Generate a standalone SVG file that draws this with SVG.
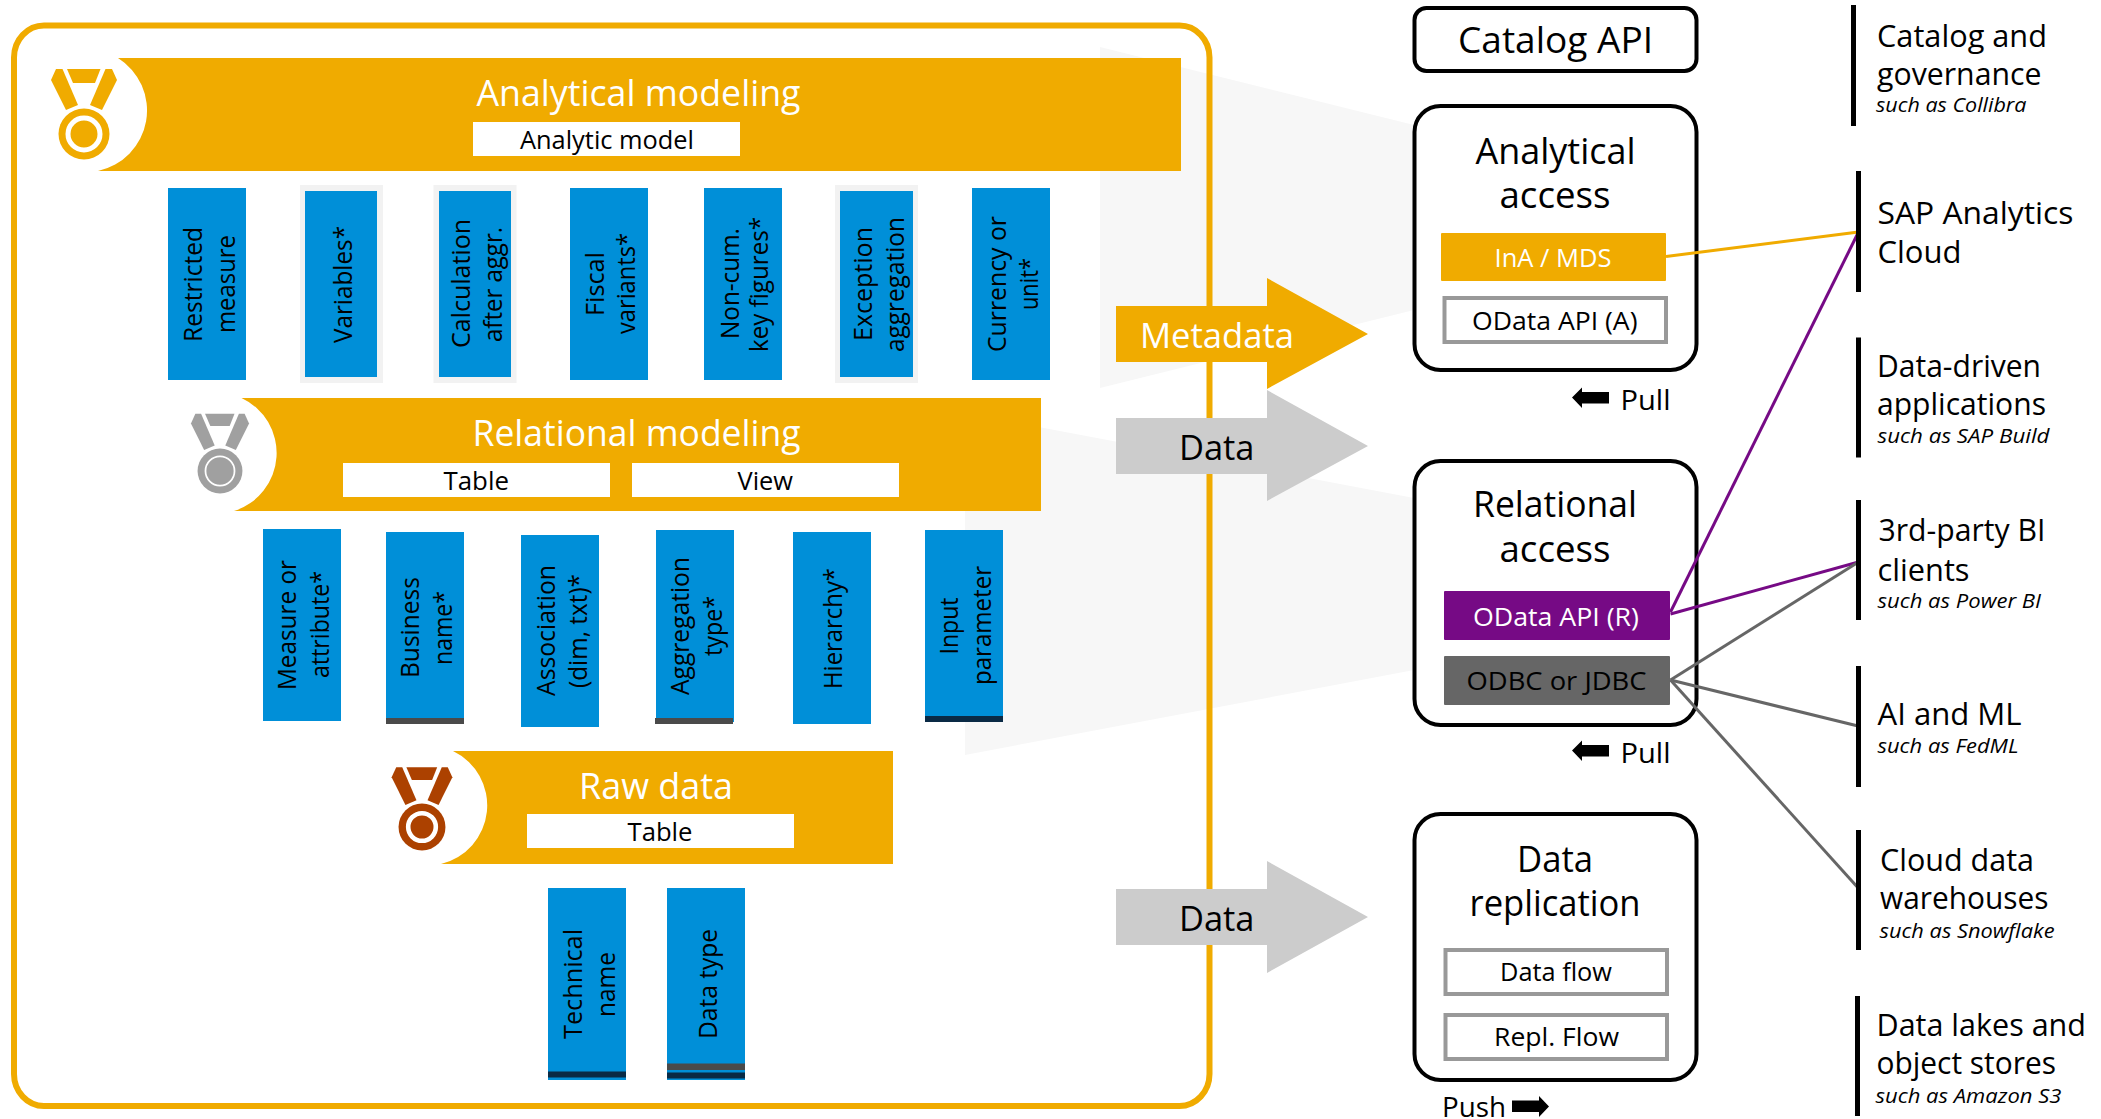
<svg xmlns="http://www.w3.org/2000/svg" width="2101" height="1119" viewBox="0 0 2101 1119">
<style>
text{font-family:"Open Sans","Noto Sans","Liberation Sans",sans-serif;fill:#000}
.v{font-size:25px}
.t{font-size:36px}
.tw{font-size:36px;fill:#fff}
.s{font-size:25px}
.b{font-size:26px}
.bw{font-size:26px;fill:#fff}
.r{font-size:31px}
.i{font-size:20px;font-style:italic}
.p{font-size:28px}
.blue{fill:#008fd8}
.halo{fill:#f2f2f2}
.gold{fill:#f0ab00}
.card{fill:#fff;stroke:#000;stroke-width:4}
.sub{fill:#fff;stroke:#999;stroke-width:4}
.bar{fill:#000}
.dk{fill:#4a4a4a}
.nv{fill:#0a2a45}
.wh{fill:#fff}
.c{fill:none;stroke-width:3}
</style>
<defs>
<g id="ribbon">
<path d="M-28-65-33-54-18-24-6-29-21.500-65Z"/>
<path d="M28-65 33-54 18-24 6-29 21.500-65Z"/>
<path d="M-17-65H16.500L11-51H-11Z"/>
</g>
</defs>
<g id="background">
<polygon points="1100,47 1414,125 1414,310 1100,388" fill="#f7f7f7"/>
<polygon points="965,413 1414,498 1414,670 965,755" fill="#f7f7f7"/>
</g>
<g id="frame"><rect x="14" y="25.500" width="1195.500" height="1080.500" rx="30" ry="32" fill="none" stroke="#f0ab00" stroke-width="6"/></g>

<g id="analytical-modeling">
<path class="gold" d="M118 58H1181V171H98A61.900 61.900 0 0 0 118 58Z"/>
<g transform="translate(84,134)" fill="#f0ab00"><use href="#ribbon"/><circle r="25.500"/><circle r="16" fill="none" stroke="#fff" stroke-width="5"/></g>
<text class="tw" x="476.500" y="106" textLength="324" lengthAdjust="spacingAndGlyphs">Analytical modeling</text>
<rect class="wh" x="473" y="122" width="267" height="34"/>
<text class="s" x="520" y="149" textLength="174" lengthAdjust="spacingAndGlyphs">Analytic model</text>
</g>
<g id="restricted-measure"><rect class="blue" x="168" y="188" width="78" height="192"/>
<text class="v" transform="translate(202,342) rotate(-90)" textLength="115" lengthAdjust="spacingAndGlyphs">Restricted</text>
<text class="v" transform="translate(234.500,333) rotate(-90)" textLength="98" lengthAdjust="spacingAndGlyphs">measure</text></g>
<g id="variables"><rect class="halo" x="300" y="185" width="83" height="198"/><rect class="blue" x="305" y="191" width="72" height="186"/>
<text class="v" transform="translate(352,343) rotate(-90)" textLength="117" lengthAdjust="spacingAndGlyphs">Variables*</text></g>
<g id="calculation"><rect class="halo" x="433.500" y="185" width="83" height="198"/><rect class="blue" x="439" y="191" width="72" height="186"/>
<text class="v" transform="translate(470,348) rotate(-90)" textLength="129" lengthAdjust="spacingAndGlyphs">Calculation</text>
<text class="v" transform="translate(502,342) rotate(-90)" textLength="115" lengthAdjust="spacingAndGlyphs">after aggr.</text></g>
<g id="fiscal-variants"><rect class="blue" x="570" y="188" width="78" height="192"/>
<text class="v" transform="translate(603.500,316) rotate(-90)" textLength="64" lengthAdjust="spacingAndGlyphs">Fiscal</text>
<text class="v" transform="translate(635,334) rotate(-90)" textLength="101" lengthAdjust="spacingAndGlyphs">variants*</text></g>
<g id="non-cum"><rect class="blue" x="704" y="188" width="78" height="192"/>
<text class="v" transform="translate(739,339) rotate(-90)" textLength="111" lengthAdjust="spacingAndGlyphs">Non-cum.</text>
<text class="v" transform="translate(768,352) rotate(-90)" textLength="135" lengthAdjust="spacingAndGlyphs">key figures*</text></g>
<g id="exception-aggregation"><rect class="halo" x="835" y="185" width="83" height="198"/><rect class="blue" x="840" y="191" width="73" height="186"/>
<text class="v" transform="translate(872,341) rotate(-90)" textLength="114" lengthAdjust="spacingAndGlyphs">Exception</text>
<text class="v" transform="translate(903.500,352) rotate(-90)" textLength="135" lengthAdjust="spacingAndGlyphs">aggregation</text></g>
<g id="currency-unit"><rect class="blue" x="972" y="188" width="78" height="192"/>
<text class="v" transform="translate(1005.500,352) rotate(-90)" textLength="136" lengthAdjust="spacingAndGlyphs">Currency or</text>
<text class="v" transform="translate(1038,310) rotate(-90)" textLength="52" lengthAdjust="spacingAndGlyphs">unit*</text></g>

<g id="relational-modeling">
<path class="gold" d="M241.500 398H1041V511H234A60.700 60.700 0 0 0 241.500 398Z"/>
<g transform="translate(220,471) scale(.88)" fill="#a0a0a0"><use href="#ribbon"/><circle r="25.500"/><circle r="16.500" fill="none" stroke="#fff" stroke-width="2"/></g>
<text class="tw" x="472.500" y="446" textLength="328" lengthAdjust="spacingAndGlyphs">Relational modeling</text>
<rect class="wh" x="343" y="463" width="267" height="34"/>
<text class="s" x="443.500" y="490" textLength="65.500" lengthAdjust="spacingAndGlyphs">Table</text>
<rect class="wh" x="632" y="463" width="267" height="34"/>
<text class="s" x="737.500" y="490" textLength="55.500" lengthAdjust="spacingAndGlyphs">View</text>
</g>
<g id="measure-attribute"><rect class="blue" x="263" y="529" width="78" height="192"/>
<text class="v" transform="translate(296,690) rotate(-90)" textLength="130" lengthAdjust="spacingAndGlyphs">Measure or</text>
<text class="v" transform="translate(329,678) rotate(-90)" textLength="107" lengthAdjust="spacingAndGlyphs">attribute*</text></g>
<g id="business-name"><rect class="blue" x="386" y="532" width="78" height="192"/><rect class="dk" x="386" y="718" width="78" height="6"/>
<text class="v" transform="translate(419,678) rotate(-90)" textLength="101" lengthAdjust="spacingAndGlyphs">Business</text>
<text class="v" transform="translate(452,665) rotate(-90)" textLength="74" lengthAdjust="spacingAndGlyphs">name*</text></g>
<g id="association"><rect class="blue" x="521" y="535" width="78" height="192"/>
<text class="v" transform="translate(555,696) rotate(-90)" textLength="131" lengthAdjust="spacingAndGlyphs">Association</text>
<text class="v" transform="translate(587,688) rotate(-90)" textLength="114" lengthAdjust="spacingAndGlyphs">(dim, txt)*</text></g>
<g id="aggregation-type"><rect class="blue" x="656" y="530" width="78" height="192"/><rect class="dk" x="655" y="718" width="78" height="6"/>
<text class="v" transform="translate(689,695) rotate(-90)" textLength="138" lengthAdjust="spacingAndGlyphs">Aggregation</text>
<text class="v" transform="translate(722,656) rotate(-90)" textLength="60" lengthAdjust="spacingAndGlyphs">type*</text></g>
<g id="hierarchy"><rect class="blue" x="793" y="532" width="78" height="192"/>
<text class="v" transform="translate(842,689) rotate(-90)" textLength="121" lengthAdjust="spacingAndGlyphs">Hierarchy*</text></g>
<g id="input-parameter"><rect class="blue" x="925" y="530" width="78" height="192"/><rect class="nv" x="925" y="716" width="78" height="6"/>
<text class="v" transform="translate(957.500,654.500) rotate(-90)" textLength="57" lengthAdjust="spacingAndGlyphs">Input</text>
<text class="v" transform="translate(991,685) rotate(-90)" textLength="119" lengthAdjust="spacingAndGlyphs">parameter</text></g>

<g id="raw-data">
<path class="gold" d="M453 751H893V864H441A60.300 60.300 0 0 0 453 751Z"/>
<g transform="translate(422,827) scale(.92)" fill="#ac4100"><use href="#ribbon"/><circle r="25.500"/><circle r="15" fill="none" stroke="#fff" stroke-width="5"/></g>
<text class="tw" x="579" y="799" textLength="154" lengthAdjust="spacingAndGlyphs">Raw data</text>
<rect class="wh" x="527" y="814" width="267" height="34"/>
<text class="s" x="627.500" y="841" textLength="65" lengthAdjust="spacingAndGlyphs">Table</text>
</g>
<g id="technical-name"><rect class="blue" x="548" y="888" width="78" height="192"/><rect class="nv" x="548" y="1071.500" width="78" height="6"/>
<text class="v" transform="translate(582,1039) rotate(-90)" textLength="110" lengthAdjust="spacingAndGlyphs">Technical</text>
<text class="v" transform="translate(614.500,1017) rotate(-90)" textLength="65" lengthAdjust="spacingAndGlyphs">name</text></g>
<g id="data-type"><rect class="blue" x="667" y="888" width="78" height="192"/><rect class="dk" x="667" y="1063.500" width="78" height="6.500"/><rect class="nv" x="667" y="1072.500" width="78" height="6"/>
<text class="v" transform="translate(717,1039) rotate(-90)" textLength="110" lengthAdjust="spacingAndGlyphs">Data type</text></g>

<g id="metadata-arrow"><polygon class="gold" points="1116,306 1267,306 1267,278 1368,334 1267,389 1267,362 1116,362"/>
<text x="1140" y="348" font-size="34" style="fill:#fff" textLength="154" lengthAdjust="spacingAndGlyphs">Metadata</text></g>
<g id="data-arrow-1"><polygon fill="#ccc" points="1116,418 1267,418 1267,390 1368,446 1267,501 1267,474 1116,474"/>
<text x="1179" y="460" font-size="34" textLength="75.500" lengthAdjust="spacingAndGlyphs">Data</text></g>
<g id="data-arrow-2"><polygon fill="#ccc" points="1116,889 1267,889 1267,861 1368,917 1267,973 1267,945 1116,945"/>
<text x="1179" y="931" font-size="34" textLength="75.500" lengthAdjust="spacingAndGlyphs">Data</text></g>

<g id="catalog-api"><rect class="card" x="1414.500" y="8" width="282" height="63" rx="12"/>
<text class="t" x="1458" y="53" textLength="195" lengthAdjust="spacingAndGlyphs">Catalog API</text></g>

<g id="analytical-access"><rect class="card" x="1414.500" y="106" width="282" height="264" rx="26"/>
<text class="t" x="1475.500" y="164" textLength="160" lengthAdjust="spacingAndGlyphs">Analytical</text>
<text class="t" x="1499.500" y="208" textLength="111" lengthAdjust="spacingAndGlyphs">access</text></g>
<g id="ina-mds"><rect class="gold" x="1441" y="233" width="225" height="48" rx="1"/>
<text class="bw" x="1494.500" y="267" textLength="117" lengthAdjust="spacingAndGlyphs">InA / MDS</text></g>
<g id="odata-a"><rect class="sub" x="1444.500" y="298" width="221.500" height="44"/>
<text class="b" x="1472" y="330" textLength="165.500" lengthAdjust="spacingAndGlyphs">OData API (A)</text></g>
<g id="pull-1"><polygon points="1572,397.500 1582,387.500 1582,392 1609,392 1609,403.500 1582,403.500 1582,408"/>
<text class="p" x="1620.500" y="410" textLength="50" lengthAdjust="spacingAndGlyphs">Pull</text></g>

<g id="relational-access"><rect class="card" x="1414.500" y="461" width="282" height="264" rx="26"/>
<text class="t" x="1473" y="517" textLength="164" lengthAdjust="spacingAndGlyphs">Relational</text>
<text class="t" x="1499.500" y="562" textLength="111" lengthAdjust="spacingAndGlyphs">access</text></g>
<g id="odata-r"><rect x="1444" y="591" width="226" height="49" rx="1" fill="#760a85"/>
<text class="bw" x="1473" y="626" textLength="166" lengthAdjust="spacingAndGlyphs">OData API (R)</text></g>
<g id="odbc-jdbc"><rect x="1444" y="656" width="226" height="49" rx="1" fill="#666"/>
<text class="b" x="1466.500" y="690" textLength="180" lengthAdjust="spacingAndGlyphs">ODBC or JDBC</text></g>
<g id="pull-2"><polygon points="1572,750.500 1582,740.500 1582,745 1609,745 1609,756.500 1582,756.500 1582,761"/>
<text class="p" x="1620.500" y="763" textLength="50" lengthAdjust="spacingAndGlyphs">Pull</text></g>

<g id="data-replication"><rect class="card" x="1414.500" y="814" width="282" height="266" rx="26"/>
<text class="t" x="1517" y="871.500" textLength="76" lengthAdjust="spacingAndGlyphs">Data</text>
<text class="t" x="1469.500" y="916" textLength="171" lengthAdjust="spacingAndGlyphs">replication</text></g>
<g id="data-flow"><rect class="sub" x="1445.500" y="950" width="221.500" height="44"/>
<text class="b" x="1500" y="981" textLength="112" lengthAdjust="spacingAndGlyphs">Data flow</text></g>
<g id="repl-flow"><rect class="sub" x="1445.500" y="1015" width="221.500" height="44"/>
<text class="b" x="1494" y="1046" textLength="125" lengthAdjust="spacingAndGlyphs">Repl. Flow</text></g>
<g id="push"><text class="p" x="1442" y="1117" textLength="64" lengthAdjust="spacingAndGlyphs">Push</text>
<polygon points="1549,1106.500 1539,1096 1539,1100.500 1512,1100.500 1512,1112 1539,1112 1539,1117"/></g>

<g id="connectors">
<path class="c" stroke="#f0ab00" d="M1666 256.500 1858.500 232"/>
<path class="c" stroke="#760a85" d="M1858.500 232 1670.500 612"/>
<path class="c" stroke="#760a85" d="M1670.500 614 1858.500 562"/>
<path class="c" stroke="#666" d="M1670.500 680 1858.500 562"/>
<path class="c" stroke="#666" d="M1670.500 680 1858 726"/>
<path class="c" stroke="#666" d="M1670.500 680 1860 890"/>
</g>

<g id="catalog-governance"><rect class="bar" x="1851" y="5" width="5" height="121"/>
<text class="r" x="1877" y="47" textLength="170" lengthAdjust="spacingAndGlyphs">Catalog and</text>
<text class="r" x="1877" y="84.500" textLength="164.500" lengthAdjust="spacingAndGlyphs">governance</text>
<text class="i" x="1876" y="112" textLength="150.500" lengthAdjust="spacingAndGlyphs">such as Collibra</text></g>
<g id="sap-analytics-cloud"><rect class="bar" x="1856" y="171" width="5" height="121"/>
<text class="r" x="1877.500" y="224" textLength="196" lengthAdjust="spacingAndGlyphs">SAP Analytics</text>
<text class="r" x="1877.500" y="263" textLength="84" lengthAdjust="spacingAndGlyphs">Cloud</text></g>
<g id="data-driven-apps"><rect class="bar" x="1856" y="337.500" width="5" height="120"/>
<text class="r" x="1877" y="376.500" textLength="164" lengthAdjust="spacingAndGlyphs">Data-driven</text>
<text class="r" x="1877" y="415" textLength="169" lengthAdjust="spacingAndGlyphs">applications</text>
<text class="i" x="1877.500" y="443" textLength="172" lengthAdjust="spacingAndGlyphs">such as SAP Build</text></g>
<g id="third-party-bi"><rect class="bar" x="1856" y="500" width="5" height="120"/>
<text class="r" x="1878.500" y="541" textLength="167" lengthAdjust="spacingAndGlyphs">3rd-party BI</text>
<text class="r" x="1877.500" y="580.500" textLength="92" lengthAdjust="spacingAndGlyphs">clients</text>
<text class="i" x="1877.500" y="608" textLength="163.500" lengthAdjust="spacingAndGlyphs">such as Power BI</text></g>
<g id="ai-ml"><rect class="bar" x="1856" y="666" width="5" height="121"/>
<text class="r" x="1877.500" y="725" textLength="144" lengthAdjust="spacingAndGlyphs">AI and ML</text>
<text class="i" x="1877.500" y="753" textLength="141" lengthAdjust="spacingAndGlyphs">such as FedML</text></g>
<g id="cloud-dw"><rect class="bar" x="1856" y="830" width="5" height="120"/>
<text class="r" x="1880" y="871" textLength="154" lengthAdjust="spacingAndGlyphs">Cloud data</text>
<text class="r" x="1880" y="909" textLength="168.500" lengthAdjust="spacingAndGlyphs">warehouses</text>
<text class="i" x="1879.500" y="938" textLength="175" lengthAdjust="spacingAndGlyphs">such as Snowflake</text></g>
<g id="data-lakes"><rect class="bar" x="1855" y="996" width="5" height="120"/>
<text class="r" x="1876.500" y="1036" textLength="209.500" lengthAdjust="spacingAndGlyphs">Data lakes and</text>
<text class="r" x="1876.500" y="1074" textLength="179.500" lengthAdjust="spacingAndGlyphs">object stores</text>
<text class="i" x="1875.500" y="1103" textLength="186" lengthAdjust="spacingAndGlyphs">such as Amazon S3</text></g>
</svg>
